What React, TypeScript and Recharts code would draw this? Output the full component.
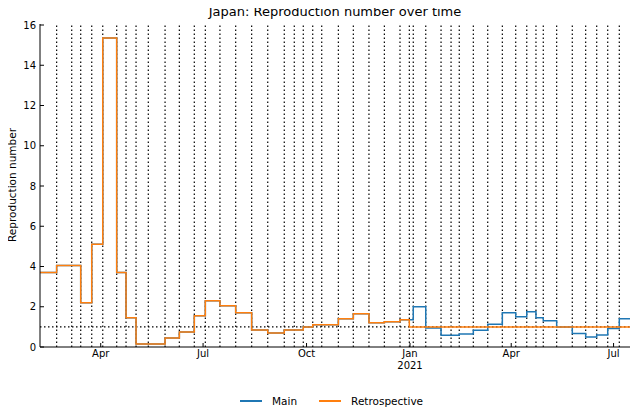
import React from "react";
import { LineChart, Line, XAxis, YAxis, ReferenceLine } from "recharts";

const breakDays = [0, 14.8, 28.2, 36.2, 46, 55.8, 68.2, 76.5, 85.4, 96.3, 111.2, 123.9, 137.2, 147, 160, 174, 188.2, 202.5, 217.2, 226.1, 234.1, 242.5, 250.5, 265.3, 278.6, 292.5, 306.2, 320.1, 328.4, 331.9, 343, 356.6, 365.5, 372.8, 385.3, 398.1, 411.1, 423, 432.8, 441, 447.5, 459.4, 473.3, 485.2, 495, 504.8, 515.1, 525.5];
const mainValues = [3.7, 4.05, 4.05, 2.2, 5.1, 15.35, 3.7, 1.45, 0.15, 0.15, 0.45, 0.75, 1.55, 2.3, 2.05, 1.7, 0.85, 0.7, 0.85, 0.85, 1.0, 1.1, 1.1, 1.4, 1.65, 1.2, 1.25, 1.35, 1.35, 2.0, 0.95, 0.58, 0.58, 0.65, 0.83, 1.13, 1.7, 1.5, 1.75, 1.45, 1.3, 1.0, 0.67, 0.5, 0.6, 0.92, 1.4, 1.4];
const retroValues = [3.7, 4.05, 4.05, 2.2, 5.1, 15.35, 3.7, 1.45, 0.15, 0.15, 0.45, 0.75, 1.55, 2.3, 2.05, 1.7, 0.85, 0.7, 0.85, 0.85, 1.0, 1.1, 1.1, 1.4, 1.65, 1.2, 1.25, 1.35, 1.0, 1.0, 1.0, 1.0, 1.0, 1.0, 1.0, 1.0, 1.0, 1.0, 1.0, 1.0, 1.0, 1.0, 1.0, 1.0, 1.0, 1.0, 1.0, 1.0];
const xTickDays = [54, 145, 237, 329, 419, 510];
const xTickLabels = ["Apr", "Jul", "Oct", "Jan|2021", "Apr", "Jul"];
const yTicks = [0, 2, 4, 6, 8, 10, 12, 14, 16];

const data = breakDays.map((d, i) => ({ day: d, main: mainValues[i], retro: retroValues[i] }));
const font = "DejaVu Sans, sans-serif";

const XTick = (props: any) => {
  const { x, y, payload } = props;
  const idx = xTickDays.indexOf(payload.value);
  const lines = (xTickLabels[idx] || "").split("|");
  return (
    <text x={x} y={y + 12} textAnchor="middle" fontSize={10} fill="#000" fontFamily={font}>
      {lines.map((l, i) => (
        <tspan key={i} x={x} dy={i === 0 ? 0 : 12}>{l}</tspan>
      ))}
    </text>
  );
};

export default function App() {
  return (
    <div style={{ position: "relative", width: 638, height: 419, margin: -8, background: "#fff", fontFamily: font }}>
      <div style={{ position: "absolute", top: 4, left: 0, width: 670, textAlign: "center", fontSize: 13 }}>Japan: Reproduction number over time</div>
      <div style={{ position: "absolute", left: 12, top: 185, transform: "translate(-50%,-50%) rotate(-90deg)", fontSize: 10.5, whiteSpace: "nowrap" }}>Reproduction number</div>
      <LineChart width={638} height={419} data={data} margin={{ top: 24, right: 7, bottom: 42, left: 10 }}>
        <XAxis dataKey="day" type="number" domain={[0, 525.5]} ticks={xTickDays} tick={<XTick />} tickSize={-4} stroke="#000" height={30} allowDataOverflow />
        <XAxis xAxisId="top" orientation="top" dataKey="day" type="number" domain={[0, 525.5]} ticks={[]} stroke="#000" height={0} />
        <YAxis type="number" domain={[0, 16.05]} ticks={yTicks} tickSize={-4} stroke="#000" width={30} tick={{ fontSize: 10, fill: "#000", fontFamily: font, dx: -6 }} allowDataOverflow />
        <YAxis yAxisId="right" orientation="right" ticks={[]} stroke="#000" width={0} />
        {breakDays.slice(1, -1).map((d, i) => (
          <ReferenceLine key={i} x={d} stroke="#000" strokeDasharray="1.5 2.5" strokeWidth={1.2} />
        ))}
        <ReferenceLine y={1} stroke="#000" strokeDasharray="1.5 2.5" strokeWidth={1.2} />
        <Line type="stepAfter" dataKey="main" stroke="#1f77b4" strokeWidth={1.5} dot={false} isAnimationActive={false} />
        <Line type="stepAfter" dataKey="retro" stroke="#ff7f0e" strokeWidth={1.5} dot={false} isAnimationActive={false} />
      </LineChart>
      <div style={{ position: "absolute", top: 395, left: 240, display: "flex", gap: 22, fontSize: 10.5 }}>
        <span style={{ display: "flex", alignItems: "center" }}><span style={{ display: "inline-block", width: 22, height: 1.5, background: "#1f77b4", marginRight: 10 }} />Main</span>
        <span style={{ display: "flex", alignItems: "center" }}><span style={{ display: "inline-block", width: 22, height: 1.5, background: "#ff7f0e", marginRight: 10 }} />Retrospective</span>
      </div>
    </div>
  );
}
